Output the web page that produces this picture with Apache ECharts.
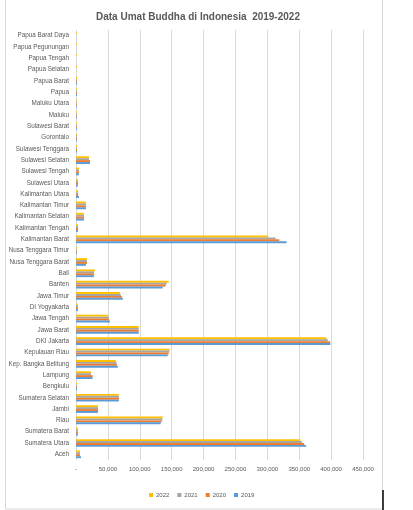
<!DOCTYPE html>
<html><head><meta charset="utf-8">
<script src="https://cdn.jsdelivr.net/npm/echarts@6/dist/echarts.min.js"></script>
<style>html,body{margin:0;padding:0;background:#fff}#c{width:413px;height:510px}</style>
</head><body><div id="c"></div>
<script>
var categories = ['Aceh','Sumatera Utara','Sumatera Barat','Riau','Jambi','Sumatera Selatan','Bengkulu','Lampung','Kep. Bangka Belitung','Kepulauan Riau','DKI Jakarta','Jawa Barat','Jawa Tengah','DI Yogyakarta','Jawa Timur','Banten','Bali','Nusa Tenggara Barat','Nusa Tenggara Timur','Kalimantan Barat','Kalimantan Tengah','Kalimantan Selatan','Kalimantan Timur','Kalimantan Utara','Sulawesi Utara','Sulawesi Tengah','Sulawesi Selatan','Sulawesi Tenggara','Gorontalo','Sulawesi Barat','Maluku','Maluku Utara','Papua','Papua Barat','Papua Selatan','Papua Tengah','Papua Pegunungan','Papua Barat Daya'];
var v2022 = [6250,351600,3000,135900,34400,67200,1600,23400,62500,146900,392700,98400,50000,3100,68750,145300,29700,17200,1300,301600,3100,12500,15600,3100,3100,4700,20300,1500,1500,1200,1200,1200,1500,1500,1400,1400,1400,1400];
var v2021 = [6250,354000,3000,135400,34400,67200,1600,23400,63500,146400,394800,98400,51600,3100,70300,142200,28100,17200,1300,313000,3100,12500,15600,3100,3100,4700,20300,1500,1500,1200,1200,1200,1500,1500,null,null,null,null];
var v2020 = [6250,357800,3000,134400,34400,67200,1600,26000,64000,145300,398400,98400,51600,3100,71900,140600,28100,17200,1300,318750,3100,12500,15600,3100,3100,4700,21900,1500,1500,1200,1200,1200,1500,1500,null,null,null,null];
var v2019 = [7800,360900,3000,132800,34400,67200,1600,26000,65600,143750,398800,98400,53100,3100,73400,135900,28100,15600,1300,330200,3100,12500,15600,4700,3100,4700,21900,1500,1500,1200,1200,1200,1500,1500,null,null,null,null];
var xTicks = {min:0, max:450000, interval:50000};

var FONT = 'Liberation Sans, Arial, sans-serif';
var chart = echarts.init(document.getElementById('c'), null, {renderer:'canvas'});
function s(name, data, color){
  return {name:name, type:'bar', data:data, itemStyle:{color:color}, barGap:'0%', barCategoryGap:'32%'};
}
chart.setOption({
  animation:false,
  title:{text:'Data Umat Buddha di Indonesia  2019-2022', left:91, top:7,
    textStyle:{fontSize:10, fontWeight:'bold', color:'#595959', fontFamily:FONT}},
  legend:{data:['2022','2021','2020','2019'], bottom:7, left:144, itemWidth:4, itemHeight:4, itemGap:8,
    icon:'rect', textStyle:{fontSize:6, color:'#595959', fontFamily:FONT, padding:[0,0,0,-2]}},
  grid:{left:76, right:50, top:30, bottom:50, containLabel:false},
  xAxis:{type:'value', min:xTicks.min, max:xTicks.max, interval:xTicks.interval,
    axisLine:{show:false}, axisTick:{show:false},
    splitLine:{lineStyle:{color:'#d9d9d9', width:1}},
    axisLabel:{fontSize:6, color:'#595959', fontFamily:FONT, margin:6,
      formatter:function(v){return v===0?'-':v.toLocaleString('en-US');}}},
  yAxis:{type:'category', data:categories,
    axisLine:{show:false}, axisTick:{show:false},
    axisLabel:{fontSize:6.3, color:'#595959', fontFamily:FONT, margin:7, interval:0}},
  series:[s('2022',v2022,'#FFC000'), s('2021',v2021,'#A5A5A5'), s('2020',v2020,'#ED7D31'), s('2019',v2019,'#5B9BD5')],
  graphic:[
    {type:'rect', shape:{x:5.5, y:-2, width:377, height:511}, style:{fill:'none', stroke:'#d9d9d9', lineWidth:1}, silent:true},
    {type:'line', shape:{x1:383, y1:490, x2:383, y2:510}, style:{stroke:'#000', lineWidth:1.5}, silent:true}
  ]
});
</script></body></html>
